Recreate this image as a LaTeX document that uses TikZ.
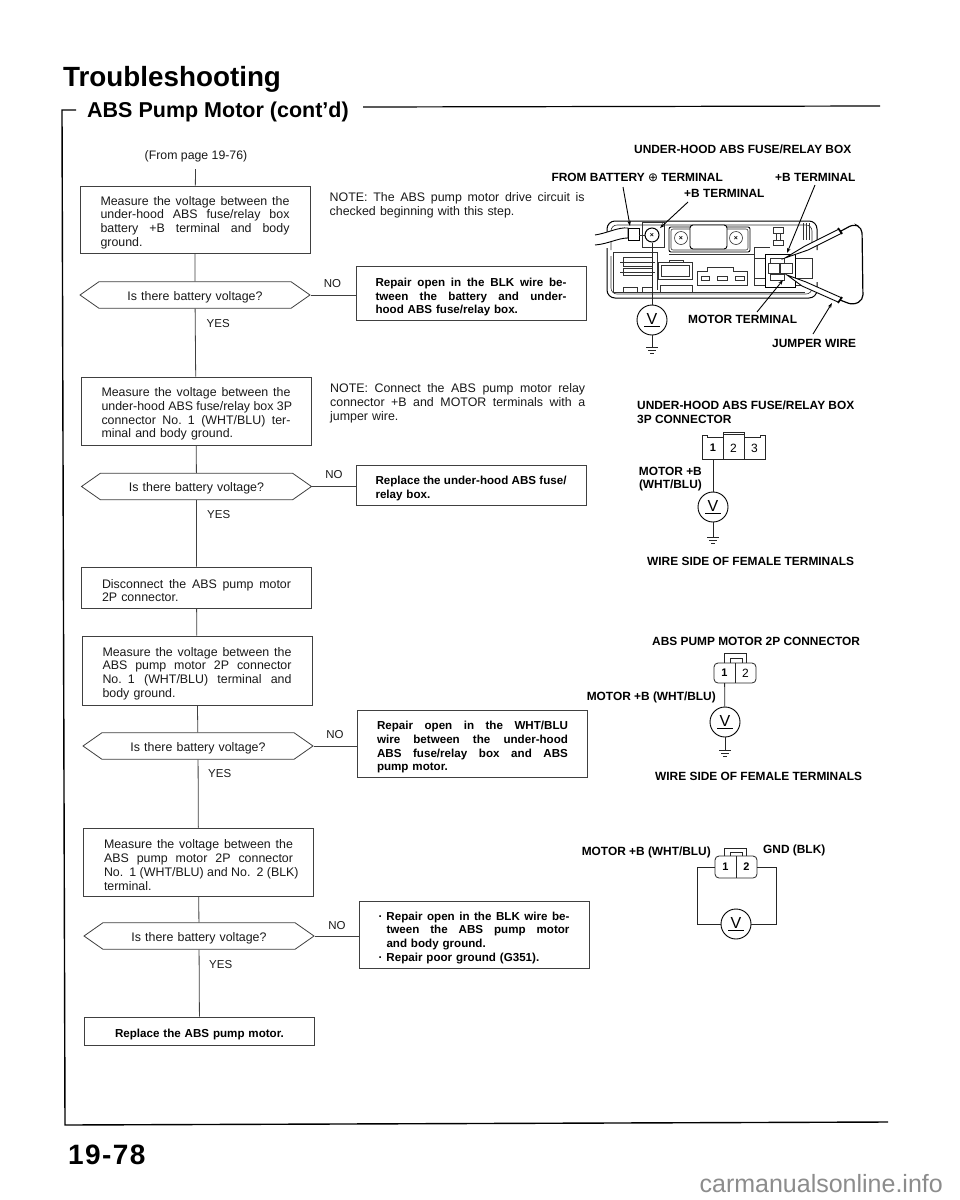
\documentclass[tikz,border=0pt]{standalone}
\usepackage{fontspec}
\setmainfont{Liberation Sans}
\newfontfamily\symfont{DejaVu Sans}
\usetikzlibrary{shapes.symbols,arrows.meta}
\newcommand{\jl}[1]{\leavevmode\hbox to 189pt{\spaceskip=.27em plus 1em\relax #1}}
\newcommand{\jn}[1]{\leavevmode\hbox to 191pt{\spaceskip=.27em plus 1em\relax #1}}
\newcommand{\jt}[1]{\leavevmode\hbox to 255pt{\spaceskip=.27em plus 1em\relax #1}}
\newcommand{\gnd}[1]{\draw[wire] (#1)++(-6,0)--++(12,0) (#1)++(-4,3)--++(8,0) (#1)++(-2,6)--++(4,0);}
\tikzset{
  x=1pt,y=-1pt,
  wire/.style={draw=black!85,line width=0.8pt},
  flowline/.style={draw=black!75,line width=0.8pt},
  thin part/.style={draw=black!80,line width=0.6pt},
  leader/.style={draw=black,line width=0.9pt},
  flowbox/.style={draw=black!75,line width=0.8pt,rectangle,inner sep=0pt,minimum width=230pt,text width=189pt,align=left,font=\fontsize{12.4}{13.7}\selectfont,text=black!90,execute at begin node={\rule{0pt}{15pt}}},
  fixbox/.style={draw=black!75,line width=0.8pt,rectangle,inner sep=0pt,minimum width=230pt,text width=191pt,align=left,font=\bfseries\fontsize{11.6}{13.7}\selectfont,execute at begin node={\rule{0pt}{15pt}}},
  question/.style={draw=black!75,line width=0.8pt,shape=signal,signal to=east and west,signal from=nowhere,signal pointer angle=70,inner sep=0pt,minimum width=230pt,minimum height=26.5pt,text width=170pt,align=center,font=\fontsize{12.4}{13.7}\selectfont,text=black!90,execute at begin node={\rule{0pt}{13pt}}},
  plain/.style={inner sep=0pt,font=\fontsize{11.5}{13.7}\selectfont,text=black!90},
  callout/.style={inner sep=0pt,font=\bfseries\fontsize{11.9}{13.7}\selectfont},
  note/.style={inner sep=0pt,text width=255pt,align=left,anchor=north west,font=\fontsize{12.4}{14}\selectfont,text=black!90},
  meter/.style={draw=black,line width=0.9pt,circle,inner sep=0pt,minimum size=30pt,fill=white,font=\fontsize{16}{16}\selectfont},
  cell/.style={inner sep=0pt,minimum width=21pt,font=\fontsize{12}{12}\selectfont},
}
\begin{document}
\begin{tikzpicture}
\useasboundingbox[fill=white] (0,0) rectangle (960,1200);
% header
\node[anchor=base west,inner sep=0pt,font=\bfseries\fontsize{27.8}{29}\selectfont] (title) at (63,86) {Troubleshooting};
\node[anchor=base west,inner sep=0pt,font=\bfseries\fontsize{21.5}{22}\selectfont] (sub) at (87,117) {ABS Pump Motor (cont'd)};
\coordinate (fa) at (76,110);\coordinate (fb) at (62,110);\coordinate (fc) at (65,1125);\coordinate (fd) at (888,1122);
\coordinate (ha) at (363,107);\coordinate (hb) at (880,106);
\draw[line width=1.4pt] (fa) -- (fb) -- (fc) -- (fd);
\draw[line width=1.2pt] (ha) -- (hb);
\node[anchor=base west,inner sep=0pt,font=\bfseries\fontsize{28}{28}\selectfont\addfontfeature{LetterSpace=5}] (page) at (68,1164) {19-78};
% flow chart
\node[plain,font=\fontsize{12.3}{13.7}\selectfont] (from) at (196,156) {(From page 19-76)};
\coordinate (start) at (195.5,169);
\node[flowbox,minimum height=67pt] (b1) at (195,219.5) {\jl{Measure the voltage between the}\\\jl{under-hood ABS fuse/relay box}\\\jl{battery +B terminal and body}\\ground.};
\node[question] (q1) at (195,295) {Is there battery voltage?};
\node[fixbox,minimum height=54pt] (n1) at (471,293.7) {\jn{Repair open in the BLK wire be-}\\\jn{tween the battery and under-}\\hood ABS fuse/relay box.};
\node[flowbox,minimum height=68pt] (b2) at (196,411) {\jl{Measure the voltage between the}\\\jl{under-hood ABS fuse/relay box 3P}\\\jl{connector No. 1 (WHT/BLU) ter-}\\minal and body ground.};
\node[question] (q2) at (196.5,486.5) {Is there battery voltage?};
\node[fixbox,minimum height=40pt] (n2) at (471,485) {\jn{Replace the under-hood ABS fuse/}\\relay box.};
\node[flowbox,minimum height=41pt] (b3) at (196.5,587.5) {\jl{Disconnect the ABS pump motor}\\2P connector.};
\node[flowbox,minimum height=69pt] (b4) at (197,670.5) {\jl{Measure the voltage between the}\\\jl{ABS pump motor 2P connector}\\\jl{No. 1 (WHT/BLU) terminal and}\\body ground.};
\node[question] (q3) at (198,746) {Is there battery voltage?};
\node[fixbox,minimum height=67pt] (n3) at (472.5,744) {\jn{Repair open in the WHT/BLU}\\\jn{wire between the under-hood}\\\jn{ABS fuse/relay box and ABS}\\pump motor.};
\node[flowbox,minimum height=68pt] (b5) at (198.5,862) {\jl{Measure the voltage between the}\\\jl{ABS pump motor 2P connector}\\\jl{No. 1 (WHT/BLU) and No. 2 (BLK)}\\terminal.};
\node[question] (q4) at (199,936) {Is there battery voltage?};
\node[fixbox,minimum height=67pt] (n4) at (474,934.5) {\jn{\hbox to 8pt{·\hfil}Repair open in the BLK wire be-}\\\jn{\hskip 8pt tween the ABS pump motor}\\\leavevmode\hskip 8pt and body ground.\\\leavevmode\hbox to 8pt{·\hfil}Repair poor ground (G351).};
\node[fixbox,minimum height=28pt,align=center] (b6) at (199.5,1031) {Replace the ABS pump motor.};
\draw[flowline] (start) -- (b1);
\draw[flowline] (b1) -- (q1);
\draw[flowline] (q1) -- (b2);
\draw[flowline] (b2) -- (q2);
\draw[flowline] (q2) -- (b3);
\draw[flowline] (b3) -- (b4);
\draw[flowline] (b4) -- (q3);
\draw[flowline] (q3) -- (b5);
\draw[flowline] (b5) -- (q4);
\draw[flowline] (q4) -- (b6);
\draw[flowline] (q1.east) -- (q1.east -| n1.west);
\draw[flowline] (q2.east) -- (q2.east -| n2.west);
\draw[flowline] (q3.east) -- (q3.east -| n3.west);
\draw[flowline] (q4.east) -- (q4.east -| n4.west);
\node[plain,anchor=west] (y1) at (206.5,324) {YES};
\node[plain,anchor=west] (y2) at (207,515) {YES};
\node[plain,anchor=west] (y3) at (208,774) {YES};
\node[plain,anchor=west] (y4) at (209,965) {YES};
\node[plain] (no1) at (332.5,284) {NO};
\node[plain] (no2) at (334,475) {NO};
\node[plain] (no3) at (335,735) {NO};
\node[plain] (no4) at (337,925.5) {NO};
\node[note] (note1) at (329.5,192) {\jt{NOTE: The ABS pump motor drive circuit is}\\checked beginning with this step.};
\node[note] (note2) at (330,383) {\jt{NOTE: Connect the ABS pump motor relay}\\\jt{connector +B and MOTOR terminals with a}\\jumper wire.};
% fuse box callouts
\node[callout,anchor=west] (t1) at (634,149) {UNDER-HOOD ABS FUSE/RELAY BOX};
\node[callout,anchor=east] (t2) at (723,177) {FROM BATTERY {\symfont\fontseries{m}\selectfont ⊕} TERMINAL};
\node[callout,anchor=west] (t3) at (684,193) {+B TERMINAL};
\node[callout,anchor=west] (t4) at (775,177) {+B TERMINAL};
\node[callout,anchor=west] (t5) at (688,319) {MOTOR TERMINAL};
\node[callout,anchor=west] (t6) at (772,343) {JUMPER WIRE};
% fuse box drawing
\draw[line width=1pt,rounded corners=8] (607,237) -- (607,221) -- (817,221) -- (817,250) (817,282) -- (817,298) -- (607,298) -- (607,248);
\draw[thin part,rounded corners=6] (611,250) -- (611,225) -- (812,225) -- (812,245) (812,285) -- (812,294) -- (611,294) -- (611,256);
\draw[thin part] (613,252) -- (657,252) -- (657,290) (613,252) -- (613,292) -- (805,292);
\draw[thin part] (803,223) -- (803,240) (806,223) -- (806,240) (809,223) -- (809,240);
\draw[line width=0.9pt,fill=white] (595,235) .. controls (608,233) and (618,227) .. (628,228) -- (628,238) .. controls (618,238) and (608,244) .. (595,245);
\draw[line width=0.9pt,fill=white] (628,228) rectangle (639,240);
\draw[thin part] (642,222) rectangle (664,247) (639,235) -- (645,235);
\node[draw,circle,line width=1pt,minimum size=14pt,inner sep=0pt,fill=white,font=\bfseries\fontsize{7}{7}\selectfont] (s1) at (652,235) {×};
\draw[line width=0.9pt,rounded corners=2] (669,227) rectangle (750,252);
\draw[thin part,rounded corners=2] (671,229) rectangle (748,250);
\draw[line width=0.9pt,rounded corners=3,fill=white] (690,225) rectangle (727,249);
\node[draw,circle,thin part,minimum size=13pt,inner sep=0pt,font=\bfseries\fontsize{7}{7}\selectfont] (s2) at (681,238) {×};
\node[draw,circle,thin part,minimum size=13pt,inner sep=0pt,font=\bfseries\fontsize{7}{7}\selectfont] (s3) at (736,238) {×};
\draw[thin part] (669,254) -- (754,254);
% left relays
\draw[thin part] (623,257) rectangle (652,266) (623,268) rectangle (652,275);
\draw[thin part] (623,287) rectangle (637,292) (642,287) rectangle (652,292);
\draw[thin part] (620,262) -- (655,262) (620,272) -- (655,272);
% centre connectors
\draw[thin part] (658,262) rectangle (692,279) (661,265) rectangle (689,276) (669,260) rectangle (683,262);
\draw[thin part] (660,285) rectangle (692,292);
\draw[thin part] (697,271) -- (707,271) -- (707,267) -- (733,267) -- (733,271) -- (747,271) -- (747,285) -- (697,285) -- cycle;
\draw[thin part] (701,276) rectangle (709,280) (717,276) rectangle (727,280) (735,276) rectangle (744,280);
% right connector
\draw[thin part] (754,247) -- (770,247) (754,247) -- (754,285) -- (805,285);
\draw[thin part] (754,258) rectangle (812,278);
\draw[line width=1pt,fill=white] (765,254) rectangle (795,287);
\draw[thin part] (770,258) rectangle (784,263) (770,274) rectangle (784,280) (780,263) rectangle (792,273) (768,263) rectangle (779,273);
\draw[thin part] (773,227) rectangle (783,233) (776,233) rectangle (780,240) (773,240) rectangle (783,245);
% jumper wire
\coordinate (p1) at (785,258);\coordinate (p2) at (787,275);
\draw[line width=0.9pt,fill=white] (p1) -- (805,246) -- (839,229) -- (842,233) -- (808,250) -- cycle;
\draw[line width=0.9pt,fill=white] (p2) -- (806,282) -- (842,298) -- (838,302) -- (802,286) -- cycle;
\draw[line width=1.2pt,rounded corners=5] (841,231) -- (854,224) -- (862,228) -- (863,300) -- (853,305) -- (840,300);
\draw[line width=1.6pt] (838,228) -- (842,234) (838,303) -- (842,297);
% leaders
\coordinate (la) at (623,187);\coordinate (lb) at (630,226);
\coordinate (lc) at (688,202);\coordinate (ld) at (660,228);
\coordinate (le) at (815,185);\coordinate (lf) at (787,253);
\coordinate (lg) at (757,312);\coordinate (lh) at (783,280);
\coordinate (li) at (813,334);\coordinate (lj) at (832,303);
\draw[leader,-{Stealth[length=5pt,width=3.5pt]}] (la) -- (lb);
\draw[leader,-{Stealth[length=5pt,width=3.5pt]}] (lc) -- (ld);
\draw[leader,-{Stealth[length=5pt,width=3.5pt]}] (le) -- (lf);
\draw[leader,-{Stealth[length=5pt,width=3.5pt]}] (lg) -- (lh);
\draw[leader,-{Stealth[length=5pt,width=3.5pt]}] (li) -- (lj);
% meter 1
\node[meter] (m1) at (652,320) {\underline{\,V\,}};
\coordinate (g1) at (652,347);
\draw[wire] (s1) -- (m1);
\draw[wire] (m1) -- (g1);
\gnd{g1}
% 3P connector
\node[callout,anchor=west] (t7) at (637,405) {UNDER-HOOD ABS FUSE/RELAY BOX};
\node[callout,anchor=west] (t8) at (637,419) {3P CONNECTOR};
\node[cell,minimum height=22pt,font=\bfseries\fontsize{11}{11}\selectfont] (c1) at (713,448) {1};
\node[cell,minimum height=22pt] (c2) at (733.5,448) {2};
\node[cell,minimum height=22pt] (c3) at (754.5,448) {3};
\draw[wire] (702,435) -- (707,435) -- (707,437) -- (723,437) -- (723,432) -- (744,432) -- (744,437) -- (760,437) -- (760,435) -- (765,435) -- (765,459) -- (702,459) -- cycle;
\draw[wire] (723,437) -- (723,459) (744,437) -- (744,459) (723,434.5) -- (744,434.5);
\node[callout,anchor=east] (t9) at (702,471) {MOTOR +B};
\node[callout,anchor=east] (t10) at (702,485) {(WHT/BLU)};
\node[meter] (m2) at (713,507) {\underline{\,V\,}};
\coordinate (g2) at (713,537);
\draw[wire] (c1) -- (m2);
\draw[wire] (m2) -- (g2);
\gnd{g2}
\node[callout,anchor=west] (t11) at (647,561) {WIRE SIDE OF FEMALE TERMINALS};
% 2P connector
\node[callout,anchor=west] (t12) at (652,641) {ABS PUMP MOTOR 2P CONNECTOR};
\node[cell,minimum height=20pt,font=\bfseries\fontsize{11}{11}\selectfont] (d1) at (724.5,673) {1};
\node[cell,minimum height=20pt] (d2) at (745.5,673) {2};
\draw[wire,rounded corners=4] (714,663) rectangle (756,683);
\draw[wire] (735,663) -- (735,683);
\draw[wire] (724,663) -- (724,653) -- (746,653) -- (746,663) (730,663) -- (730,658) -- (742,658) -- (742,663);
\node[callout,anchor=east] (t13) at (716,697) {MOTOR +B (WHT/BLU)};
\node[meter] (m3) at (725,722) {\underline{\,V\,}};
\coordinate (g3) at (725,750);
\draw[wire] (d1) -- (m3);
\draw[wire] (m3) -- (g3);
\gnd{g3}
\node[callout,anchor=west] (t14) at (655,776) {WIRE SIDE OF FEMALE TERMINALS};
% third connector
\node[callout,anchor=east] (t15) at (711,852) {MOTOR +B (WHT/BLU)};
\node[callout,anchor=west] (t16) at (763,850) {GND (BLK)};
\node[cell,minimum height=22pt,font=\bfseries\fontsize{11}{11}\selectfont] (e1) at (725.5,867) {1};
\node[cell,minimum height=22pt,font=\bfseries\fontsize{11}{11}\selectfont] (e2) at (746.5,867) {2};
\draw[wire,rounded corners=4] (715,856) rectangle (757,878);
\draw[wire] (736,856) -- (736,878);
\draw[wire] (724,856) -- (724,848) -- (746,848) -- (746,856) (730,856) -- (730,852) -- (742,852) -- (742,856);
\node[meter] (m4) at (736,924) {\underline{\,V\,}};
\coordinate (wa) at (697,867);\coordinate (wb) at (697,924);
\coordinate (wc) at (776,867);\coordinate (wd) at (776,924);
\draw[wire] (e1.west) -- (wa) -- (wb) -- (m4.west);
\draw[wire] (e2.east) -- (wc) -- (wd) -- (m4.east);
% watermark
\node[anchor=base east,inner sep=0pt,text=black!45,font=\fontsize{25}{25}\selectfont] (wm) at (943,1192) {carmanualsonline.info};
\end{tikzpicture}
\end{document}
